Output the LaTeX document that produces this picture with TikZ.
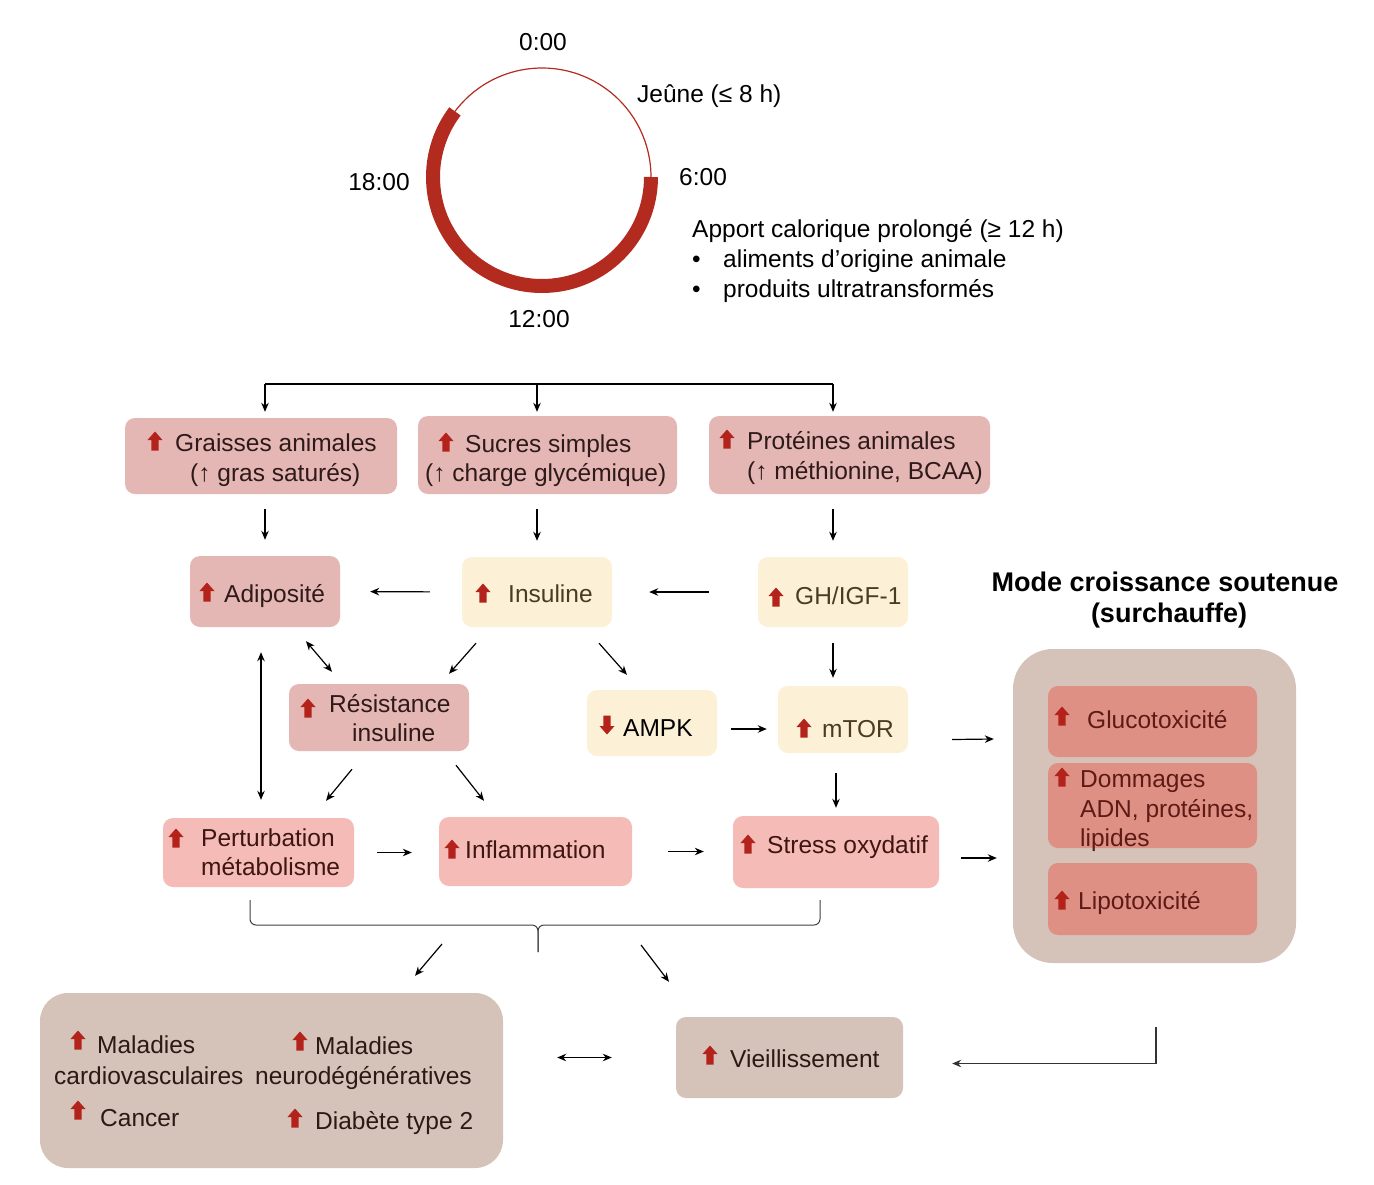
\documentclass[tikz,border=0pt]{standalone}
\usepackage{fontspec}
\setmainfont{Liberation Sans}
\usetikzlibrary{arrows.meta,calc}
\definecolor{pinkA}{HTML}{E4B7B5}
\definecolor{pinkB}{HTML}{F5BCB7}
\definecolor{cream}{HTML}{FCF1D6}
\definecolor{taupe}{HTML}{D5C2B8}
\definecolor{salmon}{HTML}{DE9085}
\definecolor{iconred}{HTML}{B3231C}
\definecolor{clockred}{HTML}{B32A1F}
\definecolor{txtpink}{HTML}{2E1A18}
\definecolor{txtcream}{HTML}{4A3B22}
\definecolor{txtrow}{HTML}{3E1510}
\definecolor{txtsalmon}{HTML}{5E1A14}
\definecolor{txttaupe}{HTML}{2A1A14}
\begin{document}
\begin{tikzpicture}[x=1pt,y=-1pt,
  every node/.style={font=\fontsize{24.5}{29.4}\selectfont},
  bx/.style={rounded corners=10pt, inner sep=0pt, draw=none},
  boxA/.style={bx, fill=pinkA},
  boxB/.style={bx, fill=pinkB},
  boxC/.style={bx, fill=cream},
  boxT/.style={bx, fill=taupe},
  boxS/.style={bx, fill=salmon},
  txt/.style={anchor=base west, inner sep=0pt},
  ctxt/.style={anchor=base, inner sep=0pt},
  arr/.style={-{Stealth[length=9pt,width=7.5pt]}, line width=1.2pt},
  darr/.style={{Stealth[length=9pt,width=7.5pt]}-{Stealth[length=9pt,width=7.5pt]}, line width=1.2pt},
  bracestyle/.style={line width=1pt, draw=black!75, rounded corners=6pt},
  upicon/.pic={\fill[iconred] (-3.6,9.5) -- (-3.6,-1) -- (-7.5,-1) -- (0,-9.5) -- (7.5,-1) -- (3.6,-1) -- (3.6,9.5) -- cycle;},
  downicon/.pic={\fill[iconred] (-3.6,-9.5) -- (-3.6,1) -- (-7.5,1) -- (0,9.5) -- (7.5,1) -- (3.6,1) -- (3.6,-9.5) -- cycle;}
]
\fill[white] (0,0) rectangle (1374,1184);
\path[use as bounding box] (0,0) rectangle (1374,1184);

% ---------- clock ----------
\coordinate (clk) at (542,177);
\draw[clockred, line width=14pt] ([shift={(0:109)}]clk) arc[start angle=0,end angle=217,radius=109];
\draw[clockred, line width=1.2pt] ([shift={(217:109)}]clk) arc[start angle=217,end angle=360,radius=109];
\node[ctxt] (h0) at (543,50) {0:00};
\node[txt] (jeune) at (637,102) {Jeûne (≤ 8 h)};
\node[ctxt] (h18) at (379,190) {18:00};
\node[txt] (h6) at (679,185) {6:00};
\node[ctxt] (h12) at (539,327) {12:00};
\node[txt] (apport) at (692,237) {Apport calorique prolongé (≥ 12 h)};
\node[txt] (b1) at (692,267) {•};
\node[txt] (b2) at (692,297) {•};
\node[txt] (alim) at (723,267) {aliments d’origine animale};
\node[txt] (prod) at (723,297) {produits ultratransformés};

% ---------- boxes ----------
\node[boxA, minimum width=272pt, minimum height=76pt] (graisses) at (261,456) {};
\node[boxA, minimum width=259pt, minimum height=78pt] (sucres) at (547.5,455) {};
\node[boxA, minimum width=281pt, minimum height=78pt] (proteines) at (849.5,455) {};
\node[boxA, minimum width=150pt, minimum height=71pt] (adipo) at (265,591.5) {};
\node[boxC, minimum width=150pt, minimum height=70pt] (insuline) at (537,592) {};
\node[boxC, minimum width=150pt, minimum height=70pt] (gh) at (833,592) {};
\node[boxA, minimum width=180pt, minimum height=67pt] (resist) at (379,717.5) {};
\node[boxC, minimum width=130pt, minimum height=66pt] (ampk) at (652,723) {};
\node[boxC, minimum width=130pt, minimum height=67pt] (mtor) at (843,719.5) {};
\node[boxB, minimum width=191pt, minimum height=69pt] (perturb) at (258.5,852.5) {};
\node[boxB, minimum width=193pt, minimum height=69pt] (inflam) at (535.5,851.5) {};
\node[boxB, minimum width=206pt, minimum height=72pt] (stress) at (836,852) {};
\node[boxT, rounded corners=40pt, minimum width=283pt, minimum height=314pt] (bigbox) at (1154.5,806) {};
\node[boxS, minimum width=209pt, minimum height=71pt] (gluco) at (1152.5,721.5) {};
\node[boxS, minimum width=209pt, minimum height=85pt] (dommages) at (1152.5,805.5) {};
\node[boxS, minimum width=209pt, minimum height=72pt] (lipo) at (1152.5,899) {};
\node[boxT, rounded corners=28pt, minimum width=463pt, minimum height=175pt] (maladies) at (271.5,1080.5) {};
\node[boxT, minimum width=227pt, minimum height=81pt] (vieil) at (789.5,1057.5) {};

% ---------- texts ----------
\node[txt, txtpink] (t1) at (175,451) {Graisses animales};
\node[txt, txtpink] (t2) at (190,481) {(↑ gras saturés)};
\node[txt, txtpink] (t3) at (465,452) {Sucres simples};
\node[txt, txtpink] (t4) at (425,481) {(↑ charge glycémique)};
\node[txt, txtpink] (t5) at (747,449) {Protéines animales};
\node[txt, txtpink] (t6) at (747,479) {(↑ méthionine, BCAA)};
\node[txt, txtpink] (t7) at (224,602) {Adiposité};
\node[txt, txtcream] (t8) at (508,602) {Insuline};
\node[txt, txtcream] (t9) at (795,604) {GH/IGF-1};
\node[txt, txtpink] (t10) at (329,712) {Résistance};
\node[txt, txtpink] (t11) at (352,741) {insuline};
\node[txt, black] (t12) at (623,736) {AMPK};
\node[txt, txtcream] (t13) at (822,737) {mTOR};
\node[txt, txtrow] (t14) at (201,846) {Perturbation};
\node[txt, txtrow] (t15) at (201,875) {métabolisme};
\node[txt, txtrow] (t16) at (465,858) {Inflammation};
\node[txt, txtrow] (t17) at (767,853) {Stress oxydatif};
\node[txt, txtsalmon] (t18) at (1087,728) {Glucotoxicité};
\node[txt, txtsalmon] (t19) at (1080,787) {Dommages};
\node[txt, txtsalmon] (t20) at (1080,817) {ADN, protéines,};
\node[txt, txtsalmon] (t21) at (1080,846) {lipides};
\node[txt, txtsalmon] (t22) at (1078,909) {Lipotoxicité};
\node[ctxt, font=\bfseries\fontsize{27}{32}\selectfont] (title1) at (1165,591) {Mode croissance soutenue};
\node[ctxt, font=\bfseries\fontsize{27}{32}\selectfont] (title2) at (1169,622) {(surchauffe)};
\node[txt, txttaupe] (t23) at (97,1053) {Maladies};
\node[txt, txttaupe] (t24) at (54,1084) {cardiovasculaires};
\node[txt, txttaupe] (t25) at (315,1054) {Maladies};
\node[txt, txttaupe] (t26) at (255,1084) {neurodégénératives};
\node[txt, txttaupe] (t27) at (100,1126) {Cancer};
\node[txt, txttaupe] (t28) at (315,1129) {Diabète type 2};
\node[txt, txttaupe] (t29) at (730,1067) {Vieillissement};

% ---------- icons ----------
\foreach \p in {(155,441),(446,442),(727,439),(207,592),(483,593),(776,597),(308,708),(804,728),(176,838),(452,849),(748,844),(1062,716),(1062,777),(1062,900),(78,1040),(300,1041),(78,1110),(295,1118),(710,1055)}
  \pic at \p {upicon};
\pic at (607,725) {downicon};

% ---------- connectors ----------
\coordinate (tm) at (537,384);
\draw[line width=1.2pt] (tm -| adipo) -- (tm -| gh);
\draw[arr, shorten >=6pt] (tm -| adipo) -- (adipo |- graisses.north);
\draw[arr, shorten >=4pt] (tm) -- (tm |- sucres.north);
\draw[arr, shorten >=4pt] (tm -| gh) -- (gh |- proteines.north);

\draw[arr, shorten <=15pt, shorten >=16pt] (adipo.north |- graisses.south) -- (adipo.north);
\draw[arr, shorten <=15pt, shorten >=16pt] (insuline.north |- sucres.south) -- (insuline.north);
\draw[arr, shorten <=15pt, shorten >=16pt] (gh.north |- proteines.south) -- (gh.north);

\draw[arr, shorten <=32pt, shorten >=30pt] (insuline.west) -- (adipo.east);
\draw[arr, shorten <=49pt, shorten >=37pt] (gh.west) -- (insuline.east);
\draw[darr] ([shift={(41,14)}]adipo.south) -- ([shift={(-47,-12)}]resist.north);
\draw[arr] ([shift={(-61,16)}]insuline.south) -- ([shift={(70,-10)}]resist.north);
\draw[arr] ([shift={(62,16)}]insuline.south) -- ([shift={(-25,-15)}]ampk.north);
\draw[arr, shorten <=16pt, shorten >=8pt] (gh.south) -- (gh.south |- mtor.north);
\draw[arr, shorten <=14pt, shorten >=11pt] ([yshift=-6pt]ampk.east) -- ([yshift=-6pt]ampk.east -| mtor.west);
\draw[arr] ([shift={(44,20)}]mtor.east) -- ([shift={(-19,-67)}]bigbox.west);
\draw[arr, shorten <=20pt, shorten >=8pt] (stress.north |- mtor.south) -- (stress.north);
\draw[arr] ([shift={(-27,18)}]resist.south) -- ([shift={(67.5,-17)}]perturb.north);
\draw[arr] ([shift={(77,14)}]resist.south) -- ([shift={(-51.5,-16)}]inflam.north);
\draw[arr, shorten <=23pt, shorten >=27pt] (perturb.east) -- (perturb.east -| inflam.west);
\draw[arr, shorten <=36pt, shorten >=29pt] (inflam.east) -- (inflam.east -| stress.west);
\draw[arr] ([shift={(22,6)}]stress.east) -- ([shift={(-16,52)}]bigbox.west);
\draw[darr, shorten <=25pt, shorten >=18pt] ([xshift=-4pt]adipo.south) -- ([xshift=-4pt]adipo.south |- perturb.north);

% brace
\coordinate (bl) at (250,900);
\coordinate (br) at (820,900);
\coordinate (bm) at (538,952);
\draw[bracestyle] (bl) -- (bl |- 0,925) -- (bm |- 0,925) -- (bm);
\draw[bracestyle] (br) -- (br |- 0,925) -- (bm |- 0,925) -- (bm);
\draw[arr] ([shift={(-96,-8)}]bm) -- ([shift={(143.5,-17)}]maladies.north);
\draw[arr] ([shift={(103,-7)}]bm) -- ([shift={(-120.5,-35)}]vieil.north);

\draw[darr, shorten <=54pt, shorten >=64pt] (vieil.west -| maladies.east) -- (vieil.west);
\coordinate (rc) at (1156,1027);
\draw[arr, draw=black!80] (rc) |- ([shift={(49,6)}]vieil.east);
\end{tikzpicture}
\end{document}
